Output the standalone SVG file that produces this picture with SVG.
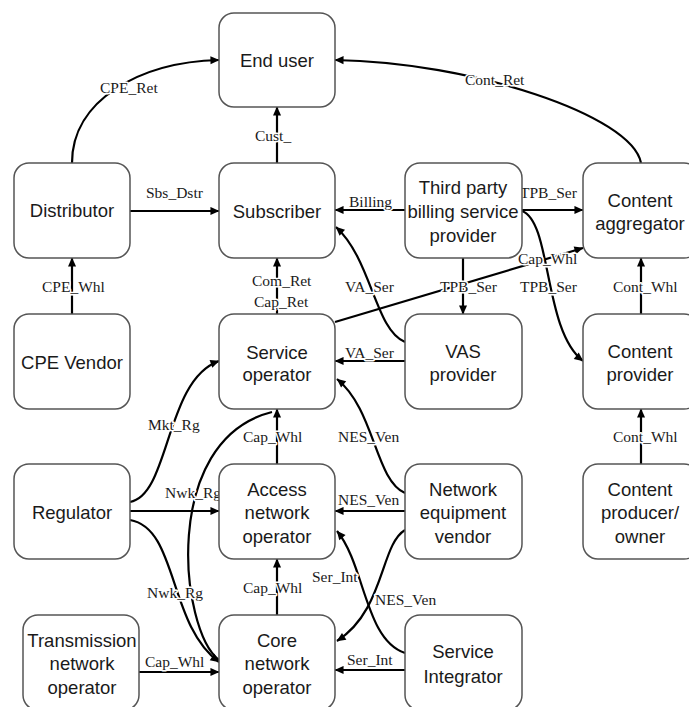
<svg xmlns="http://www.w3.org/2000/svg" width="689" height="707" viewBox="0 0 689 707">
<style>
.box{fill:#fff;stroke:#555;stroke-width:1.5}
.nt{font-family:"Liberation Sans",Arial,sans-serif;font-size:18.5px;fill:#1a1a1a;text-anchor:middle}
.c{fill:none;stroke:#000;stroke-width:2.2}
.a{marker-end:url(#ah)}
.lb{font-family:"Liberation Serif","Times New Roman",serif;font-size:15.5px;fill:#1a1a1a;paint-order:stroke;stroke:#fff;stroke-width:3px;stroke-linejoin:round}
</style>
<defs>
<marker id="ah" viewBox="0 0 10 10" refX="9.5" refY="5" markerWidth="11" markerHeight="9" markerUnits="userSpaceOnUse" orient="auto">
<path d="M0,0.5 L10,5 L0,9.5 z" fill="#000"/>
</marker>
</defs>
<rect width="689" height="707" fill="#fff"/>
<g id="connectors">
<path class="c a" d="M72,163 C72,100 140,62 219,60"/>
<path class="c a" d="M641,163 C632,115 470,62 335,60"/>
<path class="c a" d="M277,163 L277,107"/>
<path class="c a" d="M130,211 L219,211"/>
<path class="c a" d="M405,210 L335,210"/>
<path class="c a" d="M522,210 L583,210"/>
<path class="c a" d="M72,314 L72,258"/>
<path class="c a" d="M277,314 L277,258"/>
<path class="c a" d="M335,322 L583,248"/>
<path class="c a" d="M463,258 L463,314"/>
<path class="c a" d="M522,211 C552,222 543,330 583,361"/>
<path class="c a" d="M405,361 L335,361"/>
<path class="c a" d="M405,342 C375,330 372,260 336,227"/>
<path class="c a" d="M641,464 L641,409"/>
<path class="c a" d="M641,314 L641,258"/>
<path class="c a" d="M130,502 C170,495 165,380 219,361"/>
<path class="c a" d="M130,511 L219,511"/>
<path class="c a" d="M130,520 C178,528 168,625 219,662"/>
<path class="c a" d="M277,464 L277,409"/>
<path class="c a" d="M405,511 L335,511"/>
<path class="c a" d="M405,493 C375,480 375,410 337,379"/>
<path class="c a" d="M405,670 L335,670"/>
<path class="c a" d="M405,653 C365,640 365,565 337,531"/>
<path class="c a" d="M405,530 C380,545 385,610 337,641"/>
<path class="c a" d="M277,615 L277,559"/>
<path class="c a" d="M139,672 L219,672"/>
<path class="c" d="M219,660 C180,630 160,440 272,412"/>
<text class="lb" x="100" y="93">CPE_Ret</text>
<text class="lb" x="465" y="85">Cont_Ret</text>
<text class="lb" x="255" y="141">Cust_</text>
<text class="lb" x="146" y="198">Sbs_Dstr</text>
<text class="lb" x="349" y="207">Billing</text>
<text class="lb" x="520" y="198">TPB_Ser</text>
<text class="lb" x="42" y="292">CPE_Whl</text>
<text class="lb" x="252" y="286">Com_Ret</text>
<text class="lb" x="254" y="307">Cap_Ret</text>
<text class="lb" x="345" y="292">VA_Ser</text>
<text class="lb" x="440" y="292">TPB_Ser</text>
<text class="lb" x="518" y="264">Cap_Whl</text>
<text class="lb" x="520" y="292">TPB_Ser</text>
<text class="lb" x="613" y="292">Cont_Whl</text>
<text class="lb" x="148" y="430">Mkt_Rg</text>
<text class="lb" x="345" y="358">VA_Ser</text>
<text class="lb" x="243" y="442">Cap_Whl</text>
<text class="lb" x="338" y="442">NES_Ven</text>
<text class="lb" x="613" y="442">Cont_Whl</text>
<text class="lb" x="165" y="498">Nwk_Rg</text>
<text class="lb" x="338" y="505">NES_Ven</text>
<text class="lb" x="312" y="582">Ser_Int</text>
<text class="lb" x="147" y="598">Nwk_Rg</text>
<text class="lb" x="243" y="593">Cap_Whl</text>
<text class="lb" x="375" y="605">NES_Ven</text>
<text class="lb" x="145" y="667">Cap_Whl</text>
<text class="lb" x="347" y="665">Ser_Int</text>
</g>
<g id="enduser"><rect class="box" x="219" y="13" width="116" height="94" rx="15"/><text class="nt" x="277" y="67">End user</text></g>
<g id="distributor"><rect class="box" x="14" y="163" width="116" height="95" rx="15"/><text class="nt" x="72" y="217">Distributor</text></g>
<g id="subscriber"><rect class="box" x="219" y="163" width="116" height="95" rx="15"/><text class="nt" x="277" y="218">Subscriber</text></g>
<g id="thirdparty"><rect class="box" x="405" y="163" width="117" height="95" rx="15"/><text class="nt" x="463" y="194">Third party</text><text class="nt" x="463" y="218">billing service</text><text class="nt" x="463" y="242">provider</text></g>
<g id="aggregator"><rect class="box" x="583" y="163" width="116" height="95" rx="15"/><text class="nt" x="640" y="207">Content</text><text class="nt" x="640" y="230">aggregator</text></g>
<g id="cpevendor"><rect class="box" x="14" y="314" width="116" height="95" rx="15"/><text class="nt" x="72" y="369">CPE Vendor</text></g>
<g id="serviceop"><rect class="box" x="219" y="314" width="116" height="95" rx="15"/><text class="nt" x="277" y="359">Service</text><text class="nt" x="277" y="381">operator</text></g>
<g id="vas"><rect class="box" x="405" y="314" width="117" height="95" rx="15"/><text class="nt" x="463" y="358">VAS</text><text class="nt" x="463" y="381">provider</text></g>
<g id="contentprovider"><rect class="box" x="583" y="314" width="116" height="95" rx="15"/><text class="nt" x="640" y="358">Content</text><text class="nt" x="640" y="381">provider</text></g>
<g id="regulator"><rect class="box" x="14" y="464" width="116" height="95" rx="15"/><text class="nt" x="72" y="519">Regulator</text></g>
<g id="access"><rect class="box" x="219" y="464" width="116" height="95" rx="15"/><text class="nt" x="277" y="496">Access</text><text class="nt" x="277" y="519">network</text><text class="nt" x="277" y="543">operator</text></g>
<g id="netequip"><rect class="box" x="405" y="464" width="117" height="95" rx="15"/><text class="nt" x="463" y="496">Network</text><text class="nt" x="463" y="519">equipment</text><text class="nt" x="463" y="543">vendor</text></g>
<g id="producer"><rect class="box" x="583" y="464" width="116" height="95" rx="15"/><text class="nt" x="640" y="496">Content</text><text class="nt" x="640" y="519">producer/</text><text class="nt" x="640" y="543">owner</text></g>
<g id="transmission"><rect class="box" x="23" y="615" width="116" height="95" rx="15"/><text class="nt" x="82" y="647">Transmission</text><text class="nt" x="82" y="670">network</text><text class="nt" x="82" y="694">operator</text></g>
<g id="core"><rect class="box" x="219" y="615" width="116" height="95" rx="15"/><text class="nt" x="277" y="647">Core</text><text class="nt" x="277" y="670">network</text><text class="nt" x="277" y="694">operator</text></g>
<g id="integrator"><rect class="box" x="405" y="615" width="117" height="95" rx="15"/><text class="nt" x="463" y="658">Service</text><text class="nt" x="463" y="683">Integrator</text></g>
</svg>
